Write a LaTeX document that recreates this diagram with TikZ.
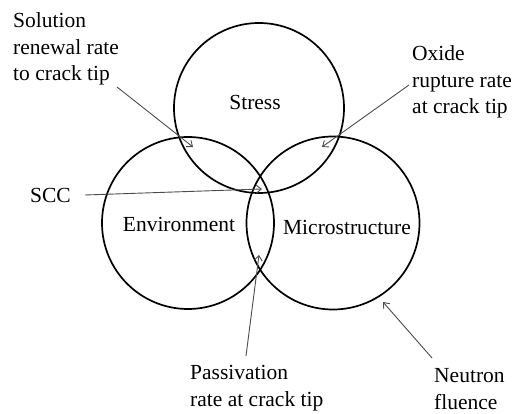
\documentclass[tikz,border=0pt]{standalone}
\usepackage{fontspec}
\setmainfont{Liberation Serif}
\usetikzlibrary{arrows.meta}
\begin{document}
\begin{tikzpicture}[x=1pt,y=-1pt,
  ring/.style={draw=black,line width=1.7pt,circle,inner sep=0pt},
  lbl/.style={font=\fontsize{21.5}{26.5}\selectfont,inner sep=0pt},
  ptr/.style={draw=black!70,line width=0.9pt,-{Straight Barb[length=5pt,width=8pt]}}]
\useasboundingbox (0,0) rectangle (514,414);
\node[ring,minimum size=170pt] (stress) at (259,108) {};
\node[ring,minimum size=172pt] (env) at (188,223) {};
\node[ring,minimum size=173pt] (micro) at (333,223) {};
\node[lbl,anchor=base] (tS) at (255,110) {Stress};
\node[lbl,anchor=base] (tE) at (179,232) {Environment};
\node[lbl,anchor=base] (tM) at (347,235) {Microstructure};
\node[lbl,anchor=base west] (tSCC) at (30,203) {SCC};
\node[lbl,anchor=base west,align=left] (tSol) at (13,81) {Solution\\renewal rate\\to crack tip};
\node[lbl,anchor=base west,align=left] (tOx) at (412,114) {Oxide\\rupture rate\\at crack tip};
\node[lbl,anchor=base west,align=left] (tPas) at (190,406) {Passivation\\rate at crack tip};
\node[lbl,anchor=base west,align=left] (tNeu) at (434,409) {Neutron\\fluence};
\coordinate (sA) at (117,87);   \coordinate (sB) at (193,147);
\coordinate (oA) at (409,85);   \coordinate (oB) at (322,147);
\coordinate (cA) at (85,195);   \coordinate (cB) at (262,189);
\coordinate (pA) at (246,356);  \coordinate (pB) at (259,255);
\coordinate (nA) at (432,358);  \coordinate (nB) at (383,302);
\draw[ptr] (sA) -- (sB);
\draw[ptr] (oA) -- (oB);
\draw[ptr] (cA) -- (cB);
\draw[ptr] (pA) -- (pB);
\draw[ptr] (nA) -- (nB);
\end{tikzpicture}
\end{document}
